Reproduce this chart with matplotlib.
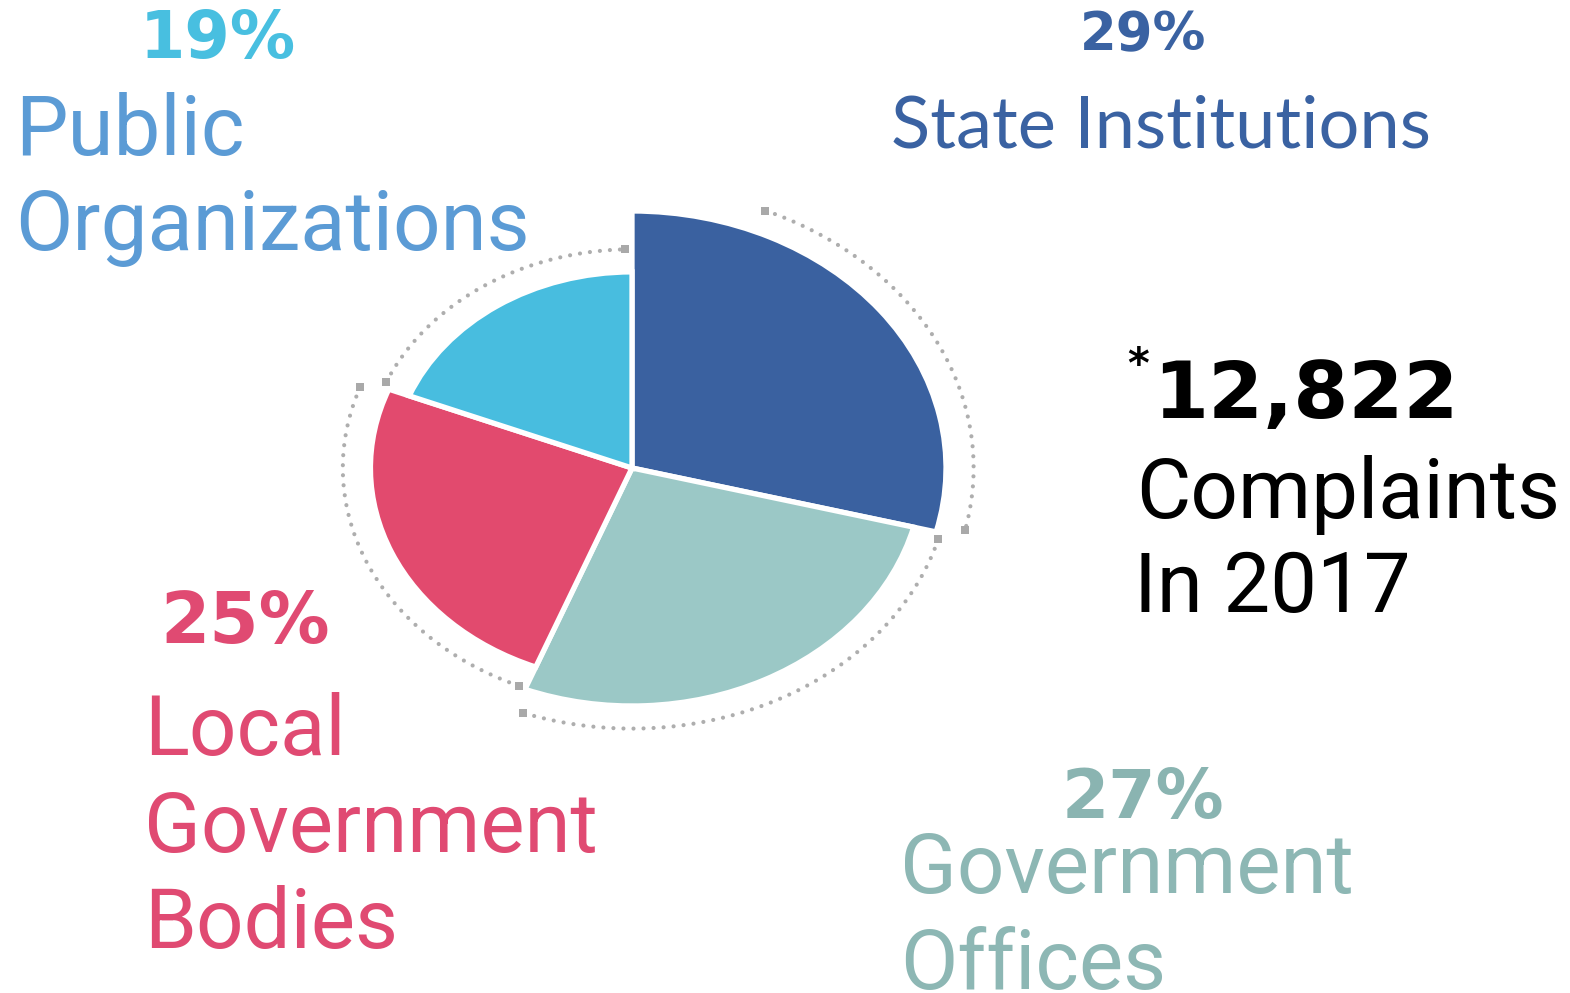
import numpy as np
import matplotlib
matplotlib.use("Agg")
import matplotlib.pyplot as plt

# Complaints by type of body, 2017 (clockwise from the top)
categories = ["State Institutions", "Government Offices", "Local Government Bodies", "Public Organizations"]
label_lines = [["State Institutions"], ["Government", "Offices"], ["Local", "Government", "Bodies"], ["Public", "Organizations"]]
shares = [29, 27, 25, 19]
total_complaints = "12,822"
year = "2017"

# styling
wedge_colors = ["#3A61A0", "#9BC8C6", "#E24A6E", "#48BDDF"]
pct_colors = ["#3A62A2", "#8AB4B1", "#E04A72", "#48BFE0"]
name_colors = ["#3A62A2", "#8DB7B4", "#E04A72", "#5B9BD5"]
radii = [1.0, 0.926, 0.833, 0.763]   # every slice has its own length
W, H = 1570, 993


def px(x, y):
    return x / W, 1 - y / H


fig = plt.figure(figsize=(W / 100, H / 100), dpi=100)
fig.patch.set_facecolor("white")

# pie axes, centred at (632, 468) px, stretched sideways like the original
cx, cy = 632, 468
sx, sy = 314.0, 257.0
half_w, half_h = 400, 300
ax = fig.add_axes([(cx - half_w) / W, (H - cy - half_h) / H, 2 * half_w / W, 2 * half_h / H])

wedges, _ = ax.pie(shares, colors=wedge_colors, startangle=90, counterclock=False,
                   wedgeprops=dict(edgecolor="white", linewidth=3.8))
for w, r in zip(wedges, radii):
    w.set_radius(r)

# dotted rings around each slice
bounds = 90 - 3.6 * np.concatenate([[0], np.cumsum(shares)])
arc_start_trim = [23, 1.5, 1.5, 1.5]
for i in range(len(shares)):
    a0 = bounds[i] - arc_start_trim[i]
    a1 = bounds[i + 1] + 1.5
    t = np.radians(np.linspace(a0, a1, 200))
    r = radii[i] + 0.088
    ax.plot(r * np.cos(t), r * np.sin(t), color="#AEAEAE", lw=3.0,
            linestyle=(0, (0.01, 2.4)), dash_capstyle="round")
    ax.plot([r * np.cos(t[0]), r * np.cos(t[-1])], [r * np.sin(t[0]), r * np.sin(t[-1])],
            "s", color="#A9A9A9", markersize=5.5, markeredgewidth=0)

ax.set_aspect("auto")
ax.set_xlim(-half_w / sx, half_w / sx)
ax.set_ylim(-half_h / sy, half_h / sy)
ax.axis("off")

# percentage labels
pct_pos = [(1143, 50, 38), (1143, 818, 49), (245, 643, 51), (218, 58, 47)]
for s, (x, y, size), c in zip(shares, pct_pos, pct_colors):
    fig.text(*px(x, y), f"{s}%", ha="center", va="baseline", fontsize=size,
             fontweight="bold", color=c, family="DejaVu Sans")

# category names
name_pos = [(891, [147], 52, "Lato"),
            (900, [893, 989], 60, "Roboto"),
            (144, [755, 852, 948], 60, "Roboto"),
            (15, [155, 250], 60, "Roboto")]
for lines, (x, ys, size, fam), c in zip(label_lines, name_pos, name_colors):
    for line, y in zip(lines, ys):
        fig.text(*px(x, y), line, ha="left", va="baseline", fontsize=size,
                 color=c, family=fam)

# total
fig.text(*px(1127, 378), "*", ha="left", va="baseline", fontsize=30,
         fontweight="bold", color="black", family="DejaVu Sans")
fig.text(*px(1153, 418), total_complaints, ha="left", va="baseline", fontsize=57,
         fontweight="bold", color="black", family="DejaVu Sans")
fig.text(*px(1136, 518), "Complaints", ha="left", va="baseline", fontsize=60,
         color="black", family="Roboto")
fig.text(*px(1134, 612), "In " + year, ha="left", va="baseline", fontsize=60,
         color="black", family="Roboto")

fig.savefig("out.png", dpi=100, facecolor="white")
